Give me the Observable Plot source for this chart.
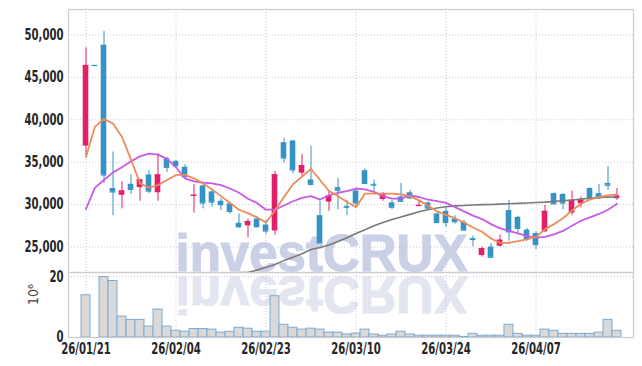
<!DOCTYPE html>
<html><head><meta charset="utf-8">
<script src="https://cdn.jsdelivr.net/npm/d3@7"></script>
<script src="https://cdn.jsdelivr.net/npm/@observablehq/plot@0.6"></script>
<style>
body{margin:0;background:#fff;}
#wrap{position:relative;width:642px;height:366px;overflow:hidden;background:#fff;}
#wm{position:absolute;left:0;top:0;}
#charts{position:absolute;left:0;top:0;}
#charts svg{display:block;background:transparent;}
</style></head><body>
<div id="wrap">
<svg id="wm" width="642" height="366">
  <text x="175.5" y="271" font-family="Liberation Sans" font-weight="bold" font-size="51" fill="#cad1e7" stroke="#cad1e7" stroke-width="1.2">investCRUX</text>
  <text x="175.5" y="271" transform="translate(0,548) scale(1,-1)" font-family="Liberation Sans" font-weight="bold" font-size="51" fill="#e3e6f0" stroke="#e3e6f0" stroke-width="1.2">investCRUX</text>
</svg>
<div id="charts"></div>
</div>
<script>
const dates = ["26/01/21","26/01/22","26/01/23","26/01/26","26/01/27","26/01/28","26/01/29","26/01/30","26/02/02","26/02/03",
"26/02/04","26/02/05","26/02/06","26/02/09","26/02/10","26/02/11","26/02/12","26/02/13","26/02/19","26/02/20",
"26/02/23","26/02/24","26/02/25","26/02/26","26/02/27","26/03/03","26/03/04","26/03/05","26/03/06","26/03/09",
"26/03/10","26/03/11","26/03/12","26/03/13","26/03/16","26/03/17","26/03/18","26/03/19","26/03/20","26/03/23",
"26/03/24","26/03/25","26/03/26","26/03/27","26/03/30","26/03/31","26/04/01","26/04/02","26/04/03","26/04/06",
"26/04/07","26/04/08","26/04/09","26/04/10","26/04/13","26/04/14","26/04/15","26/04/16","26/04/17","26/04/20"];
const open = [36900,46400,48800,31900,31100,32400,32000,33500,31400,35400,
35100,34400,31000,32200,31500,30400,30100,27800,27500,28300,
27600,26900,37300,37500,33700,32900,28700,30300,32000,29800,
31600,34000,32400,30600,30200,30900,31400,29850,30200,28900,
29200,28300,27900,26000,24000,25000,25100,29300,28500,27000,
26600,26800,31300,31200,29000,30100,31900,31300,32500,30700];
const high = [48500,46400,50400,36200,32700,33500,33000,34000,36000,35600,
35200,34700,32400,32300,31800,30700,30300,28900,28300,28500,
28100,33900,37800,37600,35900,36900,30400,31600,33100,30500,
31700,34200,32900,31400,30500,32500,31700,30400,30300,29000,
29600,28700,28150,26300,25000,25400,26400,30500,28600,27200,
26800,29900,31400,31300,31600,30900,32000,32400,34500,31900];
const low = [35800,46400,32500,28700,29500,31200,30400,31300,30400,33800,
34400,33200,29000,29500,29700,29300,28900,27200,26100,27300,
26500,26400,34900,33600,33300,32200,25400,29200,29400,28700,
29700,32400,31400,30400,29400,30300,30600,29800,29300,27800,
27300,27700,26900,25000,23800,23750,25000,25700,26600,25700,
24700,26700,30000,29400,28700,29650,30500,30600,31700,30500];
const close = [46400,46400,33500,31500,31600,31800,32900,31600,33500,34400,
34600,33300,31100,30200,30300,30000,29200,27400,28000,27400,
26900,33500,35500,34100,34600,32400,25500,31000,31700,29700,
30200,32500,32300,31200,29700,30400,30800,29900,29600,27900,
27900,28000,27000,25900,24800,23800,25800,26800,27200,26000,
25300,29200,30100,30200,30500,30500,30700,30800,32300,31000];
const volume = [13.9,0,19.9,18.6,6.9,5.8,5.8,3.6,9.2,3.6,
2.2,1.9,2.8,2.8,2.6,1.6,1.9,3.2,2.9,1.9,
1.9,13.6,4.2,3.2,2.6,2.9,2.6,1.6,1.6,1.0,
1.3,2.6,1.0,0.6,1.0,1.9,1.0,0.6,0.6,0.6,
0.6,0.6,0.2,1.2,0.6,0.6,0.6,4.2,1.2,0.6,
0.6,2.6,2.2,1.2,1.2,1.2,1.2,1.6,5.8,2.2];
const ma5 = [35600,39200,40100,39550,37970,35300,32500,32000,32300,32900,
33500,33500,33100,32500,31800,31000,30200,29400,29000,28500,
27900,29300,30900,32400,33300,34200,32900,31600,31000,30300,
29700,31300,31300,31300,31300,31200,31000,30500,29900,29200,
28800,28400,27900,27300,26800,26000,25500,25500,25700,25900,
26200,27100,27700,28400,29300,30100,30600,30900,31100,31200];
const ma20 = [29500,32000,32900,33800,34400,35100,35700,36000,35900,35400,
34400,33100,32750,32600,32500,32300,31900,31400,30700,30200,
29400,29400,29900,30400,30800,31000,30600,31100,31400,31600,
31900,31800,31500,31000,30700,30700,31100,30900,30600,30400,
30200,29700,29200,28700,28300,27700,27200,26900,26600,26300,
26100,26200,26500,26900,27500,28100,28500,28900,29400,30100];
const ma60 = [null,null,null,null,null,null,null,null,null,null,
null,null,null,null,null,null,21750,22000,22000,22280,
22620,22950,23400,23800,24200,24700,24950,25250,25650,26100,
26600,27050,27500,27900,28250,28550,28850,29150,29400,29600,
29750,29850,29900,29950,30000,30020,30060,30100,30150,30200,
30250,30300,30380,30450,30550,30650,30750,30850,30900,30850];
const priceTicks = [25000,30000,35000,40000,45000,50000];
const volTicks = [0,20];
const tickDates = ["26/01/21","26/02/04","26/02/23","26/03/10","26/03/24","26/04/07"];

const rows = dates.map((d,i)=>({date:d, open:open[i], high:high[i], low:low[i], close:close[i],
  vol:volume[i], ma5:ma5[i], ma20:ma20[i], ma60:ma60[i], up: close[i] > open[i]}));

const RED = "#e41f69", BLUE = "#3592c5";
const col = d => d.up ? RED : BLUE;
const gridStyle = {stroke:"#c3c9dc", strokeOpacity:1, strokeWidth:1, strokeDasharray:"1,2"};
const fontStyle = {background:"transparent", fontFamily:"'DejaVu Sans Condensed','DejaVu Sans',sans-serif", fontSize:"15px", fontWeight:"bold", color:"#262626", overflow:"visible"};

const price = Plot.plot({
  width:642, height:272, marginTop:9, marginBottom:0, marginLeft:68, marginRight:9,
  style: fontStyle,
  x:{type:"band", domain:dates, padding:0, axis:null},
  y:{domain:[22000,53000], ticks:priceTicks, tickFormat:d3.format(","), tickSize:0, tickPadding:5, label:null},
  marks:[
    Plot.ruleY(priceTicks, gridStyle),
    Plot.ruleX(tickDates, gridStyle),
    Plot.ruleX(rows, {x:"date", y1:"low", y2:"high", stroke:col, strokeWidth:1}),
    Plot.barY(rows, {x:"date", y1:"open", y2:"close", fill:col, insetLeft:1.7, insetRight:1.7}),
    Plot.tickY(rows, {x:"date", y:"close", stroke:col, strokeWidth:1.3, insetLeft:1.7, insetRight:1.7}),
    Plot.line(rows, {x:"date", y:"ma60", stroke:"#7a7a7a", strokeWidth:1.6, clip:true}),
    Plot.line(rows, {x:"date", y:"ma20", stroke:"#c95ae6", strokeWidth:1.8}),
    Plot.line(rows, {x:"date", y:"ma5", stroke:"#ef8a5a", strokeWidth:1.8}),
    Plot.frame({stroke:"#cccccc", strokeWidth:1.2})
  ]
});

const vol = Plot.plot({
  width:642, height:94, marginTop:0, marginBottom:29, marginLeft:68, marginRight:9,
  style: fontStyle,
  x:{type:"band", domain:dates, padding:0, ticks:tickDates, tickSize:0, tickPadding:6, label:null},
  y:{domain:[0,21.4], ticks:volTicks, tickSize:0, tickPadding:5, label:null},
  marks:[
    Plot.ruleY([20], gridStyle),
    Plot.ruleX(tickDates, gridStyle),
    Plot.barY(rows, {x:"date", y:"vol", fill:"#d9d9d9", stroke:"#7eaad0", strokeWidth:1, clip:true}),
    Plot.frame({stroke:"#cccccc", strokeWidth:1.2}),
    Plot.text(["10⁶"], {frameAnchor:"left", dx:-35, rotate:-90, fontSize:14, fontWeight:"normal", fill:"#444", fontFamily:"'DejaVu Sans Condensed','DejaVu Sans',sans-serif"})
  ]
});

document.getElementById("charts").append(price, vol);

// narrow the axis labels to match the reference's condensed face
const labels = [...document.querySelectorAll("#charts svg text")].filter(t => t.textContent !== "10⁶");
const ref = labels.find(t => t.textContent === "50,000");
const factor = ref ? 39 / ref.getComputedTextLength() : 1;
labels.forEach(t => {
  const len = t.getComputedTextLength();
  if (len > 0) {
    t.setAttribute("textLength", (len * factor).toFixed(2));
    t.setAttribute("lengthAdjust", "spacingAndGlyphs");
  }
});
</script>
</body></html>
